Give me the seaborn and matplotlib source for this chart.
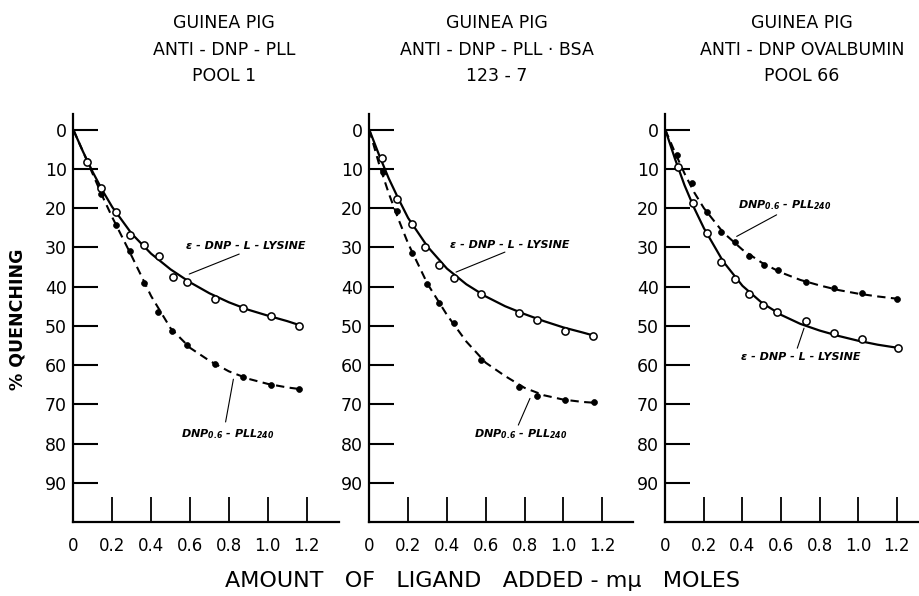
import matplotlib
matplotlib.use("Agg")
import matplotlib.pyplot as plt
import seaborn as sns
import pandas as pd

# ---------------- data ----------------
TITLES = [
    ["GUINEA PIG", "ANTI - DNP - PLL", "POOL 1"],
    ["GUINEA PIG", "ANTI - DNP - PLL · BSA", "123 - 7"],
    ["GUINEA PIG", "ANTI - DNP OVALBUMIN", "POOL 66"],
]
X_TICKS = [0, 0.2, 0.4, 0.6, 0.8, 1.0, 1.2]
X_TICK_LABELS = ["0", "0.2", "0.4", "0.6", "0.8", "1.0", "1.2"]
Y_TICKS = [0, 10, 20, 30, 40, 50, 60, 70, 80, 90]
Y_TICK_LABELS = ["0", "10", "20", "30", "40", "50", "60", "70", "80", "90"]
Y_LABEL = "% QUENCHING"
X_LABEL = "AMOUNT   OF   LIGAND   ADDED - mμ   MOLES"
LYSINE_LABEL = "ε - DNP - L - LYSINE"
PLL_LABEL = r"$DNP_{0.6}$ - $PLL_{240}$"

# panel 1 : anti-DNP-PLL pool 1
p1_open_x = [0.072, 0.144, 0.220, 0.290, 0.364, 0.439, 0.511, 0.583, 0.729, 0.874, 1.018, 1.162]
p1_open_y = [8.3, 14.9, 21.1, 26.8, 29.4, 32.3, 37.5, 38.9, 43.1, 45.5, 47.5, 50.0]
p1_fill_x = [0.072, 0.144, 0.220, 0.293, 0.364, 0.436, 0.509, 0.583, 0.729, 0.874, 1.018, 1.162]
p1_fill_y = [8.0, 16.4, 24.3, 30.8, 39.0, 46.5, 51.4, 54.9, 59.8, 63.1, 65.0, 66.1]
p1_curve_x = [0, 0.05, 0.1, 0.15, 0.2, 0.3, 0.4, 0.5, 0.6, 0.7, 0.8, 0.9, 1.0, 1.1, 1.162]
p1_solid_y = [0, 5.6, 10.8, 15.5, 19.7, 26.5, 31.6, 35.6, 38.9, 41.7, 44.0, 45.9, 47.4, 48.8, 49.8]
p1_dash_y = [0, 5.6, 11.3, 17.0, 22.3, 32.2, 42.4, 50.6, 55.6, 58.9, 61.6, 63.5, 64.8, 65.7, 66.1]

# panel 2 : anti-DNP-PLL-BSA 123-7
p2_open_x = [0.064, 0.144, 0.218, 0.289, 0.361, 0.437, 0.577, 0.773, 0.866, 1.009, 1.155]
p2_open_y = [7.2, 17.7, 24.1, 29.8, 34.5, 37.9, 41.9, 46.6, 48.5, 51.4, 52.5]
p2_fill_x = [0.069, 0.141, 0.218, 0.296, 0.360, 0.437, 0.576, 0.773, 0.863, 1.009, 1.158]
p2_fill_y = [10.9, 20.7, 31.5, 39.4, 44.3, 49.2, 58.8, 65.5, 67.8, 68.9, 69.5]
p2_curve_x = [0, 0.05, 0.1, 0.15, 0.2, 0.3, 0.4, 0.5, 0.6, 0.7, 0.8, 0.9, 1.0, 1.1, 1.158]
p2_solid_y = [0, 6.4, 12.4, 17.6, 22.5, 29.8, 35.4, 39.4, 42.5, 45.0, 47.0, 48.8, 50.4, 51.7, 52.5]
p2_dash_y = [0, 8.7, 16.2, 22.8, 29.0, 39.3, 47.2, 54.0, 59.4, 62.8, 65.8, 67.7, 68.8, 69.4, 69.6]

# panel 3 : anti-DNP ovalbumin pool 66
p3_open_x = [0.064, 0.142, 0.214, 0.289, 0.361, 0.434, 0.508, 0.580, 0.729, 0.876, 1.021, 1.204]
p3_open_y = [9.5, 18.6, 26.4, 33.6, 38.1, 41.9, 44.8, 46.4, 48.7, 51.9, 53.4, 55.6]
p3_fill_x = [0.059, 0.140, 0.214, 0.289, 0.363, 0.435, 0.511, 0.582, 0.727, 0.874, 1.021, 1.202]
p3_fill_y = [6.4, 13.6, 21.1, 26.1, 28.5, 32.3, 34.5, 35.7, 38.7, 40.3, 41.7, 43.1]
p3_curve_x = [0, 0.05, 0.1, 0.15, 0.2, 0.3, 0.4, 0.5, 0.6, 0.7, 0.8, 0.9, 1.0, 1.1, 1.204]
p3_solid_y = [0, 7.4, 14.2, 20.0, 25.1, 33.6, 39.8, 44.1, 47.2, 49.5, 51.2, 52.6, 53.8, 54.8, 55.6]
p3_dash_y = [0, 5.8, 11.2, 16.0, 20.0, 26.2, 30.6, 33.9, 36.4, 38.3, 39.7, 40.9, 41.8, 42.5, 43.1]

PANELS = [
    dict(open_x=p1_open_x, open_y=p1_open_y, fill_x=p1_fill_x, fill_y=p1_fill_y,
         cx=p1_curve_x, solid=p1_solid_y, dash=p1_dash_y),
    dict(open_x=p2_open_x, open_y=p2_open_y, fill_x=p2_fill_x, fill_y=p2_fill_y,
         cx=p2_curve_x, solid=p2_solid_y, dash=p2_dash_y),
    dict(open_x=p3_open_x, open_y=p3_open_y, fill_x=p3_fill_x, fill_y=p3_fill_y,
         cx=p3_curve_x, solid=p3_solid_y, dash=p3_dash_y),
]

# ---------------- layout / style ----------------
sns.set_theme(style="white")
plt.rcParams["font.family"] = ["DejaVu Sans"]
plt.rcParams["mathtext.fontset"] = "custom"
plt.rcParams["mathtext.rm"] = "DejaVu Sans:italic:bold"
plt.rcParams["mathtext.it"] = "DejaVu Sans:italic:bold"
plt.rcParams["mathtext.bf"] = "DejaVu Sans:italic:bold"

W, H = 919, 596
fig = plt.figure(figsize=(W / 100, H / 100), dpi=100)
fig.patch.set_facecolor("white")

# axes placement in pixels: (left, right) and x-range
AX_PIX = [(73.3, 338.8), (369.3, 633.0), (665.3, 919.0)]
X_MAX = [1.365, 1.359, 1.315]
Y_TOP_PX, Y_BOT_PX = 114.0, 522.0
TITLE_CX = [224, 497, 802]

# annotation placements (data coords): text pos, leader start, leader end
ANNOT = [
    [(LYSINE_LABEL, (0.888, 29.6), (0.853, 31.7), (0.596, 36.8)),
     (PLL_LABEL, (0.795, 77.6), (0.783, 74.5), (0.823, 63.6))],
    [(LYSINE_LABEL, (0.725, 29.4), (0.699, 31.2), (0.447, 36.3)),
     (PLL_LABEL, (0.782, 77.6), (0.768, 75.3), (0.828, 68.5))],
    [(PLL_LABEL, (0.618, 19.3), (0.577, 21.7), (0.370, 27.2)),
     (LYSINE_LABEL, (0.703, 57.9), (0.684, 55.7), (0.719, 50.6))],
]

for i, p in enumerate(PANELS):
    l, r = AX_PIX[i]
    ax = fig.add_axes([l / W, 1 - Y_BOT_PX / H, (r - l) / W, (Y_BOT_PX - Y_TOP_PX) / H])
    ax.set_facecolor("white")

    sns.lineplot(x=p["cx"], y=p["solid"], ax=ax, color="black", lw=1.6,
                 sort=False, estimator=None, zorder=2)
    sns.lineplot(x=p["cx"], y=p["dash"], ax=ax, color="black", lw=1.5,
                 linestyle=(0, (4, 2.6)), sort=False, estimator=None, zorder=2)
    sns.scatterplot(x=p["open_x"], y=p["open_y"], ax=ax, marker="o", s=27,
                    facecolor="white", edgecolor="black", linewidth=1.1, zorder=4)
    sns.scatterplot(x=p["fill_x"], y=p["fill_y"], ax=ax, marker="o", s=18,
                    color="black", edgecolor="black", linewidth=0.5, zorder=3)

    ax.set_xlim(0, X_MAX[i])
    ax.set_ylim(100, -4)
    ax.set_xticks(X_TICKS)
    ax.set_xticklabels(X_TICK_LABELS)
    ax.set_yticks(Y_TICKS)
    ax.set_yticklabels(Y_TICK_LABELS)
    ax.tick_params(axis="x", direction="in", length=18, width=1.3, labelsize=12,
                   pad=11, colors="black", bottom=True)
    ax.tick_params(axis="y", direction="in", length=18, width=1.5, labelsize=12.5,
                   pad=4.5, colors="black", left=True)
    ax.set_xlabel("")
    ax.set_ylabel("")
    for s in ("top", "right"):
        ax.spines[s].set_visible(False)
    for s in ("left", "bottom"):
        ax.spines[s].set_color("black")
        ax.spines[s].set_linewidth(1.6)
    ax.grid(False)

    tx = (TITLE_CX[i] - l) / (r - l)
    ax.text(tx, 1.158, "\n".join(TITLES[i]), transform=ax.transAxes,
            ha="center", va="center", fontsize=12.5, linespacing=1.62,
            color="black")

    for label, tpos, a, b in ANNOT[i]:
        ax.text(tpos[0], tpos[1], label, ha="center", va="center",
                fontsize=8, fontstyle="italic", fontweight="bold", color="black")
        ax.plot([a[0], b[0]], [a[1], b[1]], color="black", lw=0.8)

fig.text(18 / W, 1 - 319 / H, Y_LABEL, rotation=90, ha="center", va="center",
         fontsize=12.5, fontweight="bold", color="black")
fig.text(483 / W, 1 - 581 / H, X_LABEL, ha="center", va="center",
         fontsize=16, color="black")

fig.savefig("out.png", dpi=100, facecolor="white")
